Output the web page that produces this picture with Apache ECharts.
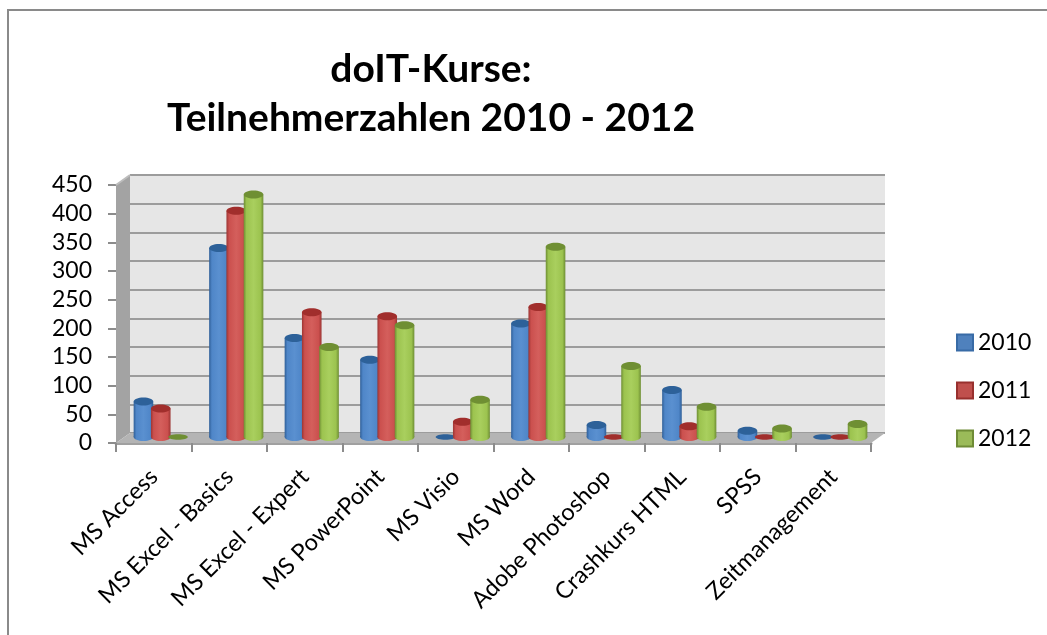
<!DOCTYPE html>
<html><head><meta charset="utf-8">
<style>html,body{margin:0;padding:0;background:#fff}#c{width:1047px;height:635px}</style>
<script src="https://cdn.jsdelivr.net/npm/echarts@6/dist/echarts.min.js"></script>
</head><body><div id="c"></div>
<script>
const categories = ['MS Access','MS Excel - Basics','MS Excel - Expert','MS PowerPoint','MS Visio','MS Word','Adobe Photoshop','Crashkurs HTML','SPSS','Zeitmanagement'];
const years = ['2010','2011','2012'];
const values2010 = [67,335,178,140,1,203,26,87,16,1];
const values2011 = [55,400,223,216,32,232,1,24,2,2];
const values2012 = [2,428,162,200,70,337,129,58,20,28];
const FONT = 'Lato, "Open Sans", sans-serif';
const palette = [
  {legend:'#4f81bd',legendB:'#386ba6',edge:'#2f5f98',mid:'#4f86c8',light:'#5a90d0',top:'#2d6199'},
  {legend:'#c0504d',legendB:'#98302e',edge:'#9c3533',mid:'#cb504e',light:'#d45f5c',top:'#a12e2c'},
  {legend:'#9bbb59',legendB:'#6f8c36',edge:'#6e8e34',mid:'#9cc34f',light:'#a9cf5e',top:'#6f8f33'}
];
const WALL_DX = 14, WALL_DY = -10;
const BAR_DX = 7, BAR_TOP_DY = -3, BAR_BASE_DY = -6, BAR_STEP = 17.3, BAR_RX = 9.8, BAR_RY = 4;

function cylinder(si){
  const p = palette[si];
  return function(params, api){
    const i = api.value(0), v = api.value(1);
    const top = api.coord([i, v]), base = api.coord([i, 0]);
    const cx = base[0] + BAR_DX + (si-1)*BAR_STEP;
    const by = base[1] + BAR_BASE_DY, ty = top[1] + BAR_TOP_DY;
    const grad = new echarts.graphic.LinearGradient(0,0,1,0,[
      {offset:0,color:p.edge},{offset:.14,color:p.mid},{offset:.5,color:p.light},
      {offset:.85,color:p.mid},{offset:1,color:p.edge}]);
    const children = [];
    if (by - ty > 2) {
      children.push({type:'ellipse',shape:{cx,cy:by,rx:BAR_RX,ry:BAR_RY},style:{fill:grad}});
      children.push({type:'rect',shape:{x:cx-BAR_RX,y:ty,width:BAR_RX*2,height:by-ty},style:{fill:grad}});
      children.push({type:'ellipse',shape:{cx,cy:ty,rx:BAR_RX,ry:BAR_RY},style:{fill:p.top}});
    } else {
      children.push({type:'ellipse',shape:{cx,cy:by,rx:BAR_RX,ry:BAR_RY*0.7},style:{fill:p.top}});
    }
    return {type:'group',children};
  };
}
function walls(params, api){
  const n = categories.length;
  const band = api.size([1,0])[0];
  const first = api.coord([0,0]), topC = api.coord([0,450]);
  const ax = first[0]-band/2, ay = first[1], ty = topC[1], bx = ax + band*n;
  const side = {type:'polygon',shape:{points:[[ax,ay],[ax+WALL_DX,ay+WALL_DY],[ax+WALL_DX,ty+WALL_DY],[ax,ty]]},style:{fill:'#a3a3a3'}};
  const floor = {type:'polygon',shape:{points:[[ax,ay],[bx,ay],[bx+WALL_DX,ay+WALL_DY],[ax+WALL_DX,ay+WALL_DY]]},style:{fill:'#b4b4b4'}};
  const edge = {type:'polyline',shape:{points:[[ax+WALL_DX,ty+WALL_DY],[ax,ty]]},style:{stroke:'#bdbdbd',lineWidth:2,fill:null}};
  return {type:'group',children:[side,floor,edge]};
}
const rows = [values2010,values2011,values2012];
const chart = echarts.init(document.getElementById('c'),null,{renderer:'canvas'});
chart.setOption({
  animation:false,
  backgroundColor:'#ffffff',
  title:{text:'doIT-Kurse:\nTeilnehmerzahlen 2010 - 2012',left:426,top:40,textAlign:'center',
    textStyle:{fontFamily:FONT,fontWeight:'bold',fontSize:39,lineHeight:49,color:'#000'}},
  legend:{data:years,icon:'rect',orient:'vertical',left:951,top:326,itemWidth:16,itemHeight:16,itemGap:25,
    textStyle:{fontFamily:FONT,fontSize:23,color:'#000'}},
  grid:[
    {left:116,right:176,top:185,bottom:192},
    {left:130,right:162,top:175,bottom:202,show:true,backgroundColor:'#e6e6e6',borderWidth:0}
  ],
  xAxis:[
    {type:'category',gridIndex:0,data:categories,
      axisLine:{show:true,lineStyle:{color:'#a0a0a0',width:3}},
      axisTick:{show:true,length:9,lineStyle:{color:'#8c8c8c',width:2}},
      axisLabel:{rotate:45,interval:0,margin:30,fontFamily:FONT,fontSize:23.5,color:'#000'}},
    {type:'category',gridIndex:1,data:categories,axisLine:{show:false},axisTick:{show:false},axisLabel:{show:false}}
  ],
  yAxis:[
    {type:'value',gridIndex:0,min:0,max:450,interval:50,splitLine:{show:false},
      axisLine:{show:false},
      axisTick:{show:true,length:8,lineStyle:{color:'#8c8c8c',width:2}},
      axisLabel:{margin:24,padding:[3,0,0,0],fontFamily:FONT,fontSize:23,color:'#000'}},
    {type:'value',gridIndex:1,min:0,max:450,interval:50,
      splitLine:{show:true,lineStyle:{color:'#9c9c9c',width:2}},
      axisLine:{show:false},axisTick:{show:false},axisLabel:{show:false}}
  ],
  graphic:[
    {type:'line',shape:{x1:7,y1:10,x2:1047,y2:10},style:{stroke:'#8a8a8a',lineWidth:2},silent:true},
    {type:'line',shape:{x1:8,y1:9,x2:8,y2:635},style:{stroke:'#8a8a8a',lineWidth:2},silent:true}
  ],
  series:[
    {type:'custom',xAxisIndex:0,yAxisIndex:0,z:1,clip:false,silent:true,data:[[0,0]],renderItem:walls,encode:{x:0,y:1}},
    ...years.map((y,si)=>({
      name:y,type:'custom',xAxisIndex:0,yAxisIndex:0,z:2+si,clip:false,silent:true,
      itemStyle:{color:palette[si].legend,borderColor:palette[si].legendB,borderWidth:1.5},
      data:rows[si].map((v,i)=>[i,v]),encode:{x:0,y:1},renderItem:cylinder(si)
    }))
  ]
});
</script></body></html>
